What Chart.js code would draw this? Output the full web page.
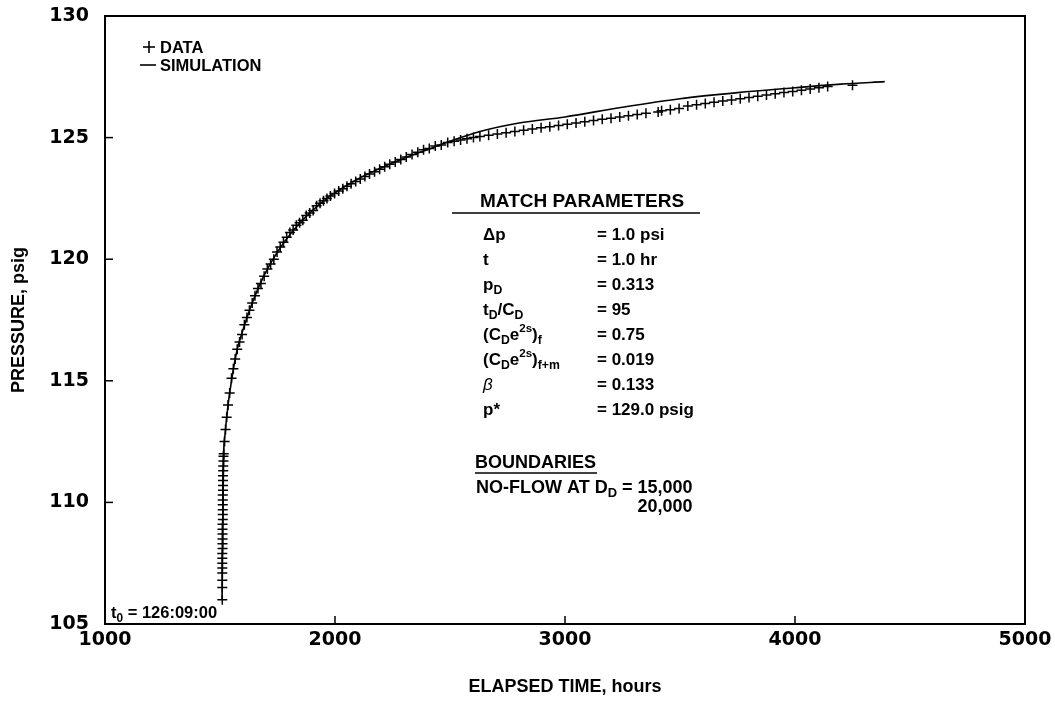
<!DOCTYPE html>
<html lang="en">
<head>
    <meta charset="UTF-8">
    <title>Pressure Buildup Match</title>
    <script src="https://cdn.jsdelivr.net/npm/chart.js"></script>
    <style>
        body { margin: 0; background: #fff; }
        #chart-container { width: 1055px; height: 712px; position: relative; }
    </style>
</head>
<body>
<div id="chart-container">
    <canvas id="pressureChart"></canvas>
</div>
<script>
    const dataHours = [
        1510, 1510, 1510, 1510, 1510, 1510, 1510, 1510,
        1511, 1511, 1511, 1511, 1511, 1511,
        1512, 1512, 1512, 1512, 1512, 1512,
        1513, 1513, 1513, 1513, 1514, 1514, 1515, 1515,
        1516, 1520, 1524, 1529, 1535, 1542, 1550, 1558, 1566, 1575,
        1585, 1596, 1606, 1617, 1628, 1640, 1652, 1665, 1678, 1692,
        1706, 1720, 1734, 1748, 1762, 1776, 1790, 1804, 1818, 1832,
        1846, 1860, 1875, 1890, 1905, 1920, 1935, 1950, 1965, 1980,
        1998, 2016, 2034, 2052, 2070, 2090, 2110, 2130, 2150, 2172,
        2194, 2216, 2238, 2262, 2286, 2310, 2335, 2360, 2385, 2410,
        2436, 2462, 2490, 2518, 2546, 2574, 2602, 2630, 2668, 2706,
        2744, 2782, 2820, 2858, 2896, 2934, 2972, 3010, 3048, 3086,
        3124, 3162, 3200, 3238, 3276, 3314, 3352, 3405, 3420, 3458,
        3496, 3534, 3572, 3610, 3648, 3686, 3724, 3762, 3800, 3838,
        3876, 3914, 3952, 3990, 4028, 4066, 4104, 4142, 4250
    ];
    const dataPsig = [
        106.0, 106.5, 106.8, 107.1, 107.3, 107.5, 107.7, 107.9,
        108.1, 108.3, 108.5, 108.7, 108.9, 109.1,
        109.3, 109.5, 109.7, 109.9, 110.1, 110.3,
        110.5, 110.7, 110.9, 111.1, 111.3, 111.5, 111.7, 111.9,
        112.0, 112.5, 113.0, 113.5, 114.0, 114.5, 115.1, 115.5, 115.9, 116.3,
        116.6, 116.9, 117.3, 117.6, 117.9, 118.2, 118.5, 118.8, 119.0, 119.3,
        119.6, 119.8, 120.0, 120.3, 120.5, 120.7, 120.9, 121.1, 121.2, 121.4,
        121.5, 121.6, 121.8, 121.9, 122.0, 122.2, 122.3, 122.4, 122.5, 122.6,
        122.7, 122.8, 122.9, 123.0, 123.1, 123.2, 123.3, 123.4, 123.5, 123.6,
        123.7, 123.8, 123.9, 124.0, 124.1, 124.2, 124.3, 124.4, 124.5, 124.55,
        124.65, 124.7, 124.8, 124.85, 124.9, 124.95, 125.0, 125.05, 125.1, 125.15,
        125.2, 125.25, 125.3, 125.35, 125.4, 125.45, 125.5, 125.55, 125.6, 125.65,
        125.7, 125.75, 125.8, 125.85, 125.9, 125.95, 126.0, 126.05, 126.1, 126.15,
        126.2, 126.3, 126.35, 126.4, 126.45, 126.5, 126.55, 126.6, 126.65, 126.7,
        126.75, 126.8, 126.85, 126.9, 126.95, 127.0, 127.05, 127.1, 127.15
    ];

    // simulation curve
    const simHours = [1509, 1511, 1513, 1516, 1522, 1535, 1550, 1575, 1600, 1640,
        1690, 1750, 1820, 1890, 1980, 2100, 2200, 2300, 2400, 2500,
        2630, 2800, 3000, 3250, 3500, 3750, 4000, 4200, 4390];
    const simPsig = [106.0, 108.0, 110.0, 112.0, 112.8, 114.0, 115.0, 116.3, 117.1, 118.2,
        119.3, 120.3, 121.2, 121.9, 122.6, 123.3, 123.75, 124.15, 124.5, 124.85,
        125.25, 125.6, 125.85, 126.25, 126.6, 126.85, 127.05, 127.2, 127.3];

    const xTicks = [1000, 2000, 3000, 4000, 5000];
    const yTicks = [105, 110, 115, 120, 125, 130];

    const TEXT_FONT = '"Liberation Sans", Arial, sans-serif';

    // draws text pieces with subscripts / superscripts, left to right
    function rich(ctx, x, y, parts, size) {
        parts.forEach(([txt, kind]) => {
            let fs = size, dy = 0, style = 'bold ';
            if (kind === 'sub') { fs = size * 0.72; dy = size * 0.32; }
            if (kind === 'sup') { fs = size * 0.68; dy = -size * 0.38; }
            if (kind === 'it') { style = 'italic '; }
            ctx.font = style + fs + 'px ' + TEXT_FONT;
            ctx.fillText(txt, x, y + dy);
            x += ctx.measureText(txt).width;
        });
        return x;
    }

    function hline(ctx, x1, x2, y) {
        ctx.beginPath();
        ctx.moveTo(x1, y);
        ctx.lineTo(x2, y);
        ctx.stroke();
    }

    const decorations = {
        id: 'decorations',
        afterDraw(chart) {
            const ctx = chart.ctx;
            const a = chart.chartArea;
            const xs = chart.scales.x, ys = chart.scales.y;
            ctx.save();
            ctx.strokeStyle = '#000';
            ctx.fillStyle = '#000';

            // frame
            ctx.lineWidth = 2;
            ctx.strokeRect(a.left, a.top, a.right - a.left, a.bottom - a.top);

            // inward tick marks
            ctx.lineWidth = 1.5;
            ys.ticks.forEach(t => {
                const y = ys.getPixelForValue(t.value);
                hline(ctx, a.left, a.left + 8, y);
            });
            xs.ticks.forEach(t => {
                const x = xs.getPixelForValue(t.value);
                ctx.beginPath();
                ctx.moveTo(x, a.bottom);
                ctx.lineTo(x, a.bottom - 8);
                ctx.stroke();
            });

            ctx.textBaseline = 'middle';
            ctx.textAlign = 'left';

            // legend
            ctx.lineWidth = 1.6;
            hline(ctx, 143, 155, 47);
            ctx.beginPath();
            ctx.moveTo(149, 41);
            ctx.lineTo(149, 53);
            ctx.stroke();
            hline(ctx, 140, 156, 65);
            rich(ctx, 160, 48, [['DATA']], 16.5);
            rich(ctx, 160, 66, [['SIMULATION']], 16.5);

            // match parameters
            rich(ctx, 480, 202, [['MATCH PARAMETERS']], 19);
            ctx.lineWidth = 1.6;
            hline(ctx, 452, 700, 213);

            const rowY = [235, 260, 285, 310, 335, 360, 385, 410];
            const labels = [
                [['\u0394p']],
                [['t']],
                [['p'], ['D', 'sub']],
                [['t'], ['D', 'sub'], ['/C'], ['D', 'sub']],
                [['(C'], ['D', 'sub'], ['e'], ['2s', 'sup'], [')'], ['f', 'sub']],
                [['(C'], ['D', 'sub'], ['e'], ['2s', 'sup'], [')'], ['f+m', 'sub']],
                [['\u03B2', 'it']],
                [['p*']]
            ];
            const values = ['= 1.0 psi', '= 1.0 hr', '= 0.313', '= 95',
                '= 0.75', '= 0.019', '= 0.133', '= 129.0 psig'];
            labels.forEach((parts, i) => {
                rich(ctx, 483, rowY[i], parts, 17);
                rich(ctx, 597, rowY[i], [[values[i]]], 17);
            });

            // boundaries
            const noFlow = [['NO-FLOW AT D'], ['D', 'sub'], [' = 15,000']];
            rich(ctx, 475, 463, [['BOUNDARIES']], 18);
            hline(ctx, 475, 597, 473);
            const endX = rich(ctx, 476, 488, noFlow, 18);
            ctx.font = 'bold 18px ' + TEXT_FONT;
            rich(ctx, endX - ctx.measureText('20,000').width, 507, [['20,000']], 18);

            // start time note
            rich(ctx, 111, 613, [['t'], ['0', 'sub'], [' = 126:09:00']], 16.5);

            ctx.restore();
        }
    };

    const tickFont = { family: '"DejaVu Sans"', size: 19, weight: 'bold' };
    const titleFont = { family: TEXT_FONT, size: 18, weight: 'bold' };

    const ctx = document.getElementById('pressureChart').getContext('2d');
    new Chart(ctx, {
        type: 'scatter',
        data: {
            datasets: [{
                label: 'DATA',
                data: dataHours.map((h, i) => ({ x: h, y: dataPsig[i] })),
                pointStyle: 'cross',
                pointRadius: 5,
                pointBorderWidth: 1.5,
                borderColor: '#000',
                backgroundColor: '#000',
                showLine: false
            }, {
                label: 'SIMULATION',
                data: simHours.map((h, i) => ({ x: h, y: simPsig[i] })),
                showLine: true,
                pointRadius: 0,
                borderColor: '#000',
                borderWidth: 1.6,
                cubicInterpolationMode: 'monotone'
            }]
        },
        options: {
            responsive: true,
            maintainAspectRatio: false,
            animation: false,
            layout: { padding: { top: 16, right: 30, left: 0, bottom: 0 } },
            plugins: {
                legend: { display: false },
                tooltip: { enabled: false }
            },
            scales: {
                x: {
                    type: 'linear',
                    min: 1000,
                    max: 5000,
                    afterBuildTicks: s => { s.ticks = xTicks.map(v => ({ value: v })); },
                    afterFit: s => {
                        s.height = 88;
                        s.paddingLeft = 0;
                        s.paddingRight = 0;
                    },
                    grid: { display: true, drawOnChartArea: false, drawTicks: false },
                    border: { display: true, color: '#000', width: 2 },
                    ticks: { color: '#000', font: tickFont, padding: 5, maxRotation: 0,
                        callback: v => String(v) },
                    title: {
                        display: true,
                        text: 'ELAPSED TIME, hours',
                        color: '#000',
                        font: titleFont,
                        padding: { top: 4, bottom: 14 }
                    }
                },
                y: {
                    type: 'linear',
                    min: 105,
                    max: 130,
                    afterBuildTicks: s => { s.ticks = yTicks.map(v => ({ value: v })); },
                    afterFit: s => {
                        s.width = 105;
                        s.paddingTop = 0;
                        s.paddingBottom = 0;
                    },
                    grid: { display: true, drawOnChartArea: false, drawTicks: false },
                    border: { display: true, color: '#000', width: 2 },
                    ticks: { color: '#000', font: tickFont, padding: 16,
                        callback: v => String(v) },
                    title: {
                        display: true,
                        text: 'PRESSURE, psig',
                        color: '#000',
                        font: titleFont,
                        padding: { top: 8, bottom: 4 }
                    }
                }
            }
        },
        plugins: [decorations]
    });
</script>
</body>
</html>
